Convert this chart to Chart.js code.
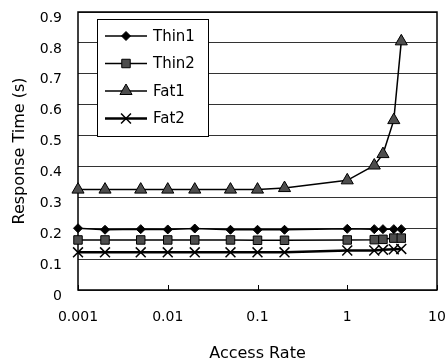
<!DOCTYPE html>
<html lang="en">
<head>
  <meta charset="UTF-8">
  <title>Response Time vs Access Rate</title>
  <script src="https://cdn.jsdelivr.net/npm/chart.js"></script>
  <style>
    body { margin: 0; background: #fff; }
  </style>
</head>
<body>
  <canvas id="rtChart" width="448" height="362"></canvas>

  <script>
    // data
    const accessRates = [0.001, 0.002, 0.005, 0.01, 0.02, 0.05, 0.1, 0.2, 1, 2, 2.5, 3.3, 4];
    const thin1 = [0.2, 0.195, 0.197, 0.196, 0.199, 0.195, 0.195, 0.195, 0.198, 0.197, 0.197, 0.197, 0.197];
    const thin2 = [0.162, 0.162, 0.162, 0.162, 0.162, 0.162, 0.161, 0.161, 0.162, 0.163, 0.164, 0.168, 0.168];
    const fat1 = [0.325, 0.325, 0.325, 0.325, 0.325, 0.325, 0.325, 0.33, 0.355, 0.403, 0.44, 0.55, 0.805];
    const fat2 = [0.122, 0.122, 0.122, 0.122, 0.122, 0.122, 0.122, 0.122, 0.128, 0.128, 0.13, 0.132, 0.133];
    const xTicks = [0.001, 0.01, 0.1, 1, 10];

    const FONT = 'DejaVu Sans';

    function toPoints(values) {
      return values.map((v, i) => ({ x: accessRates[i], y: v }));
    }

    // frame + small inward ticks on the x axis
    const framePlugin = {
      id: 'frame',
      beforeDatasetsDraw(chart) {
        const { ctx, chartArea: a } = chart;
        const xs = chart.scales.x;
        ctx.save();
        ctx.strokeStyle = '#000';
        ctx.lineWidth = 1.5;
        ctx.strokeRect(a.left, a.top, a.right - a.left, a.bottom - a.top);
        ctx.lineWidth = 1;
        xs.ticks.forEach(t => {
          const px = Math.round(xs.getPixelForValue(t.value)) + 0.5;
          ctx.beginPath();
          ctx.moveTo(px, a.bottom);
          ctx.lineTo(px, a.bottom - 5);
          ctx.stroke();
        });
        ctx.restore();
      }
    };

    // legend box inside the plot, top left
    const boxLegendPlugin = {
      id: 'boxLegend',
      afterDraw(chart) {
        const { ctx, chartArea: a } = chart;
        const left = a.left + 19, top = a.top + 7, w = 111, h = 117;
        ctx.save();
        ctx.fillStyle = '#fff';
        ctx.fillRect(left, top, w, h);
        ctx.strokeStyle = '#000';
        ctx.lineWidth = 1;
        ctx.strokeRect(left + 0.5, top + 0.5, w, h);
        chart.data.datasets.forEach((ds, i) => {
          const y = top + 17 + i * 27.5;
          ctx.strokeStyle = '#000';
          ctx.lineWidth = ds.borderWidth;
          ctx.beginPath();
          ctx.moveTo(left + 8, y);
          ctx.lineTo(left + 50, y);
          ctx.stroke();
          ctx.fillStyle = ds.pointBackgroundColor;
          ctx.strokeStyle = ds.pointBorderColor;
          ctx.lineWidth = ds.pointBorderWidth;
          Chart.helpers.drawPoint(ctx, {
            pointStyle: ds.pointStyle,
            radius: ds.pointRadius,
            borderWidth: ds.pointBorderWidth,
            rotation: 0
          }, left + 29, y);
          ctx.fillStyle = '#000';
          ctx.font = '15px "' + FONT + '"';
          ctx.textBaseline = 'middle';
          ctx.fillText(ds.label, left + 56, y + 1);
        });
        ctx.restore();
      }
    };

    const ctx = document.getElementById('rtChart').getContext('2d');
    new Chart(ctx, {
      type: 'line',
      data: {
        datasets: [
          {
            label: 'Thin1', data: toPoints(thin1),
            borderColor: '#000', borderWidth: 1.5,
            pointStyle: 'rectRot', pointRadius: 4.5,
            pointBackgroundColor: '#000', pointBorderColor: '#000', pointBorderWidth: 1,
            clip: false
          },
          {
            label: 'Thin2', data: toPoints(thin2),
            borderColor: '#000', borderWidth: 1.5,
            pointStyle: 'rect', pointRadius: 6,
            pointBackgroundColor: '#4d4d4d', pointBorderColor: '#000', pointBorderWidth: 1,
            clip: false
          },
          {
            label: 'Fat1', data: toPoints(fat1),
            borderColor: '#000', borderWidth: 1.5,
            pointStyle: 'triangle', pointRadius: 7,
            pointBackgroundColor: '#4d4d4d', pointBorderColor: '#000', pointBorderWidth: 1,
            clip: false
          },
          {
            label: 'Fat2', data: toPoints(fat2),
            borderColor: '#000', borderWidth: 2.5,
            pointStyle: 'crossRot', pointRadius: 7,
            pointBackgroundColor: '#000', pointBorderColor: '#000', pointBorderWidth: 1.5,
            clip: false
          }
        ]
      },
      options: {
        responsive: false,
        animation: false,
        layout: { autoPadding: false, padding: { top: 12, right: 11, left: 0, bottom: 0 } },
        plugins: {
          legend: { display: false },
          tooltip: { enabled: false }
        },
        scales: {
          x: {
            type: 'logarithmic',
            min: 0.001,
            max: 10,
            afterBuildTicks: scale => { scale.ticks = xTicks.map(v => ({ value: v })); },
            afterFit: scale => {
              scale.height = 72;
              scale.paddingLeft = 0;
              scale.paddingRight = 0;
            },
            grid: { display: false, drawTicks: false },
            border: { display: false },
            ticks: {
              color: '#000',
              padding: 19,
              maxRotation: 0,
              autoSkip: false,
              font: { family: FONT, size: 14 },
              callback: v => String(v)
            },
            title: {
              display: true,
              text: 'Access Rate',
              color: '#000',
              padding: 0,
              font: { family: FONT, size: 16, lineHeight: 1 }
            }
          },
          y: {
            min: 0,
            max: 0.9,
            afterFit: scale => {
              scale.width = 78;
              scale.paddingTop = 0;
              scale.paddingBottom = 0;
            },
            grid: { color: '#333', lineWidth: 1, drawTicks: false },
            border: { display: false },
            ticks: {
              stepSize: 0.1,
              color: '#000',
              padding: 16,
              labelOffset: 6,
              font: { family: FONT, size: 14 },
              callback: v => String(Number(v.toFixed(1)))
            },
            title: {
              display: true,
              text: 'Response Time (s)',
              color: '#000',
              padding: { top: 10, bottom: 0 },
              font: { family: FONT, size: 16 }
            }
          }
        }
      },
      plugins: [framePlugin, boxLegendPlugin]
    });
  </script>
</body>
</html>
